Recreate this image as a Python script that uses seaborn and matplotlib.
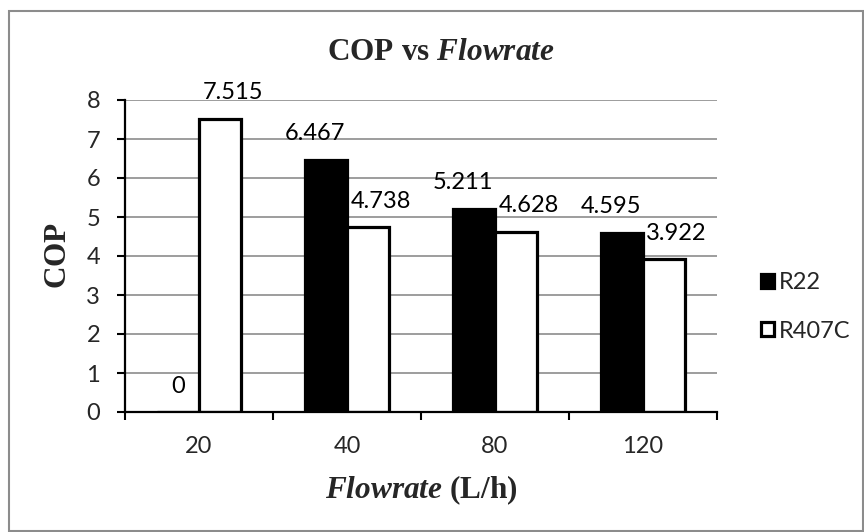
import numpy as np
import pandas as pd
import matplotlib.pyplot as plt
import matplotlib.patches as mpatches
import seaborn as sns

# Data
flowrates = ['20', '40', '80', '120']
cop_r22 = [0, 6.467, 5.211, 4.595]
cop_r407c = [7.515, 4.738, 4.628, 3.922]
refrigerants = ['R22', 'R407C']

df = pd.DataFrame({
    'Flowrate': flowrates * 2,
    'Refrigerant': [refrigerants[0]] * 4 + [refrigerants[1]] * 4,
    'COP': cop_r22 + cop_r407c,
})

sns.set_style('white')
plt.rcParams['font.family'] = ['Lato', 'DejaVu Sans']
plt.rcParams['mathtext.fontset'] = 'custom'
plt.rcParams['mathtext.rm'] = 'Liberation Serif:bold'
plt.rcParams['mathtext.bf'] = 'Liberation Serif:bold'
plt.rcParams['mathtext.it'] = 'Liberation Serif:italic:bold'

fig = plt.figure(figsize=(8.64, 5.32), dpi=100)
ax = fig.add_axes([125 / 864, 1 - 412 / 532, 592 / 864, 312 / 532])

sns.barplot(data=df, x='Flowrate', y='COP', hue='Refrigerant', order=flowrates,
            palette={'R22': 'black', 'R407C': 'white'}, edgecolor='black',
            linewidth=2.3, width=0.57, ax=ax, legend=False)

# Axes styling (Excel look)
ax.set_ylim(0, 8)
ax.set_yticks(range(0, 9))
ax.set_xlim(-0.5, len(flowrates) - 0.5)
ax.set_xticks(np.arange(len(flowrates) + 1) - 0.5)
ax.set_xticklabels([])
ax.set_xticks(range(len(flowrates)), minor=True)
ax.set_xticklabels(flowrates, minor=True)
ax.tick_params(axis='x', which='major', direction='out', length=6, width=1.5,
               color='black', bottom=True)
ax.tick_params(axis='x', which='minor', length=0, pad=17, labelsize=17)
ax.tick_params(axis='y', direction='out', length=6, width=1.5, color='black',
               left=True, pad=12, labelsize=17)
ax.yaxis.grid(True, color='#8c8c8c', linewidth=1.2)
ax.set_axisbelow(True)
for side in ['top', 'right']:
    ax.spines[side].set_visible(False)
for side in ['left', 'bottom']:
    ax.spines[side].set_color('black')
    ax.spines[side].set_linewidth(1.6)
ax.set_xlabel('')
ax.set_ylabel('')

# Value labels above bars
for i, container in enumerate(ax.containers):
    for bar in container:
        h = bar.get_height()
        if h == 0:
            dx = 0
        else:
            dx = -8 if i == 0 else 9
        ax.annotate(f'{h:g}', (bar.get_x() + bar.get_width() / 2, h),
                    xytext=(dx, 14), textcoords='offset points',
                    ha='center', va='baseline', fontsize=17, color='black')

# Legend
ax.legend(ax.containers, refrigerants, loc='center left',
          bbox_to_anchor=(761 / 864, 1 - 307 / 532), bbox_transform=fig.transFigure,
          frameon=False, fontsize=17, handlelength=0.55, handleheight=0.55,
          handletextpad=0.2, labelspacing=1.15, borderpad=0, borderaxespad=0)

# Titles
fig.text(441 / 864, 1 - 60 / 532, r'$\mathbf{COP\ vs\ }\mathit{Flowrate}$',
         ha='center', va='baseline', fontsize=22.5)
fig.text(57 / 864, 1 - 255 / 532, r'$\mathbf{COP}$', rotation=90,
         ha='center', va='center', fontsize=22.5)
fig.text(421 / 864, 1 - 498 / 532, r'$\mathit{Flowrate}\ \mathbf{(L/h)}$',
         ha='center', va='baseline', fontsize=22.5)

# Chart border
fig.patches.append(mpatches.Rectangle((8.5 / 864, 1.5 / 532), 854 / 864, 520 / 532,
                                      transform=fig.transFigure, fill=False,
                                      edgecolor='#8c8c8c', linewidth=1.5))

fig.savefig('out.png', dpi=100)
